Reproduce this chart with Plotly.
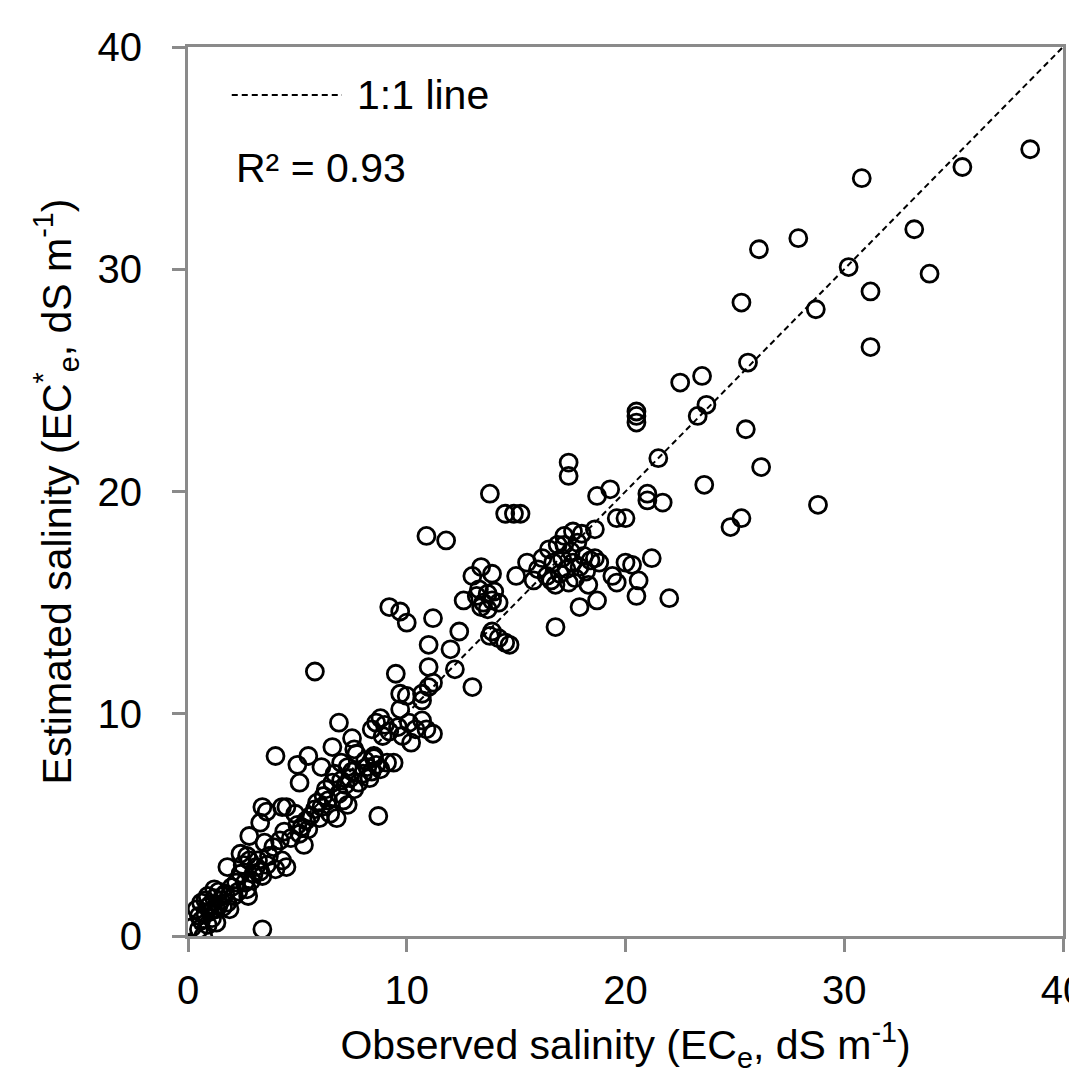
import plotly.graph_objects as go

# Observed (x) and estimated (y) salinity, dS m-1
observed = [
    0.5, 0.7, 0.2, 0.4, 0.6, 0.8, 0.9, 1.0, 1.1, 1.2, 0.5, 0.9, 1.3, 1.4, 1.5, 1.6, 1.7, 1.8, 2.0, 1.9,
    1.2, 0.8, 1.0, 1.4, 1.6, 0.6, 2.1, 2.2, 1.3, 0.9,
    1.8, 2.75, 2.6, 2.4, 2.5, 2.7, 2.8, 3.0, 3.1, 3.3, 3.4, 2.9, 2.4, 2.8, 3.2, 3.6, 4.0, 4.3, 4.5, 3.4,
    2.7, 2.3, 3.5, 3.7, 3.9,
    3.4, 3.6, 3.3, 4.2, 4.4, 4.7, 4.5, 4.3, 5.3, 5.1, 5.0, 5.4, 5.6, 5.2, 5.8, 4.9, 5.5, 6.0, 5.9, 6.2,
    6.1, 6.4, 6.5, 6.8, 6.3, 6.6, 6.9, 7.0, 7.2, 7.4, 6.7, 7.1, 7.3, 7.6, 7.8, 7.5, 8.0, 8.2, 8.4, 8.1,
    8.3, 8.6, 8.8, 8.5,
    4.0, 5.0, 5.5, 6.1, 5.1, 6.6, 6.9, 7.5, 7.6, 8.7, 8.5, 9.1, 9.4, 8.4, 8.6, 8.8, 9.0, 9.2, 8.9, 9.6,
    10.1, 10.4, 10.7, 10.9, 11.2, 10.2, 9.8, 7.7, 7.0, 7.3,
    5.8, 9.5, 9.7, 10.0, 10.7, 10.7, 11.0, 11.2, 11.0, 12.2, 13.0, 9.7, 11.0, 12.0, 11.2, 12.4, 9.2, 9.7, 10.0,
    13.9, 14.2, 14.5, 14.7, 13.8,
    12.6, 13.0, 13.4, 13.9, 13.2, 13.5, 13.7, 13.9, 14.0, 13.4, 13.7, 14.2, 13.3,
    15.0, 15.5, 15.2, 14.5, 14.9, 13.8, 10.9, 11.8,
    15.8, 16.0, 16.2, 16.4, 16.5, 16.7, 16.8, 16.9, 17.0, 17.1, 17.2, 17.3, 17.4, 17.5, 17.6, 17.7, 17.8, 17.9,
    18.0, 18.1, 18.2, 18.3, 18.4, 17.6, 17.2, 16.6, 18.6, 18.6, 18.8,
    16.8, 17.9, 18.7, 20.5, 22.0, 19.6, 20.6, 19.4, 20.0, 20.3, 21.2, 19.6, 20.0, 18.7, 19.3, 21.0, 21.0, 21.7,
    17.4, 17.4, 21.5, 20.5, 20.5, 20.5, 22.5, 23.5, 23.3, 23.7, 25.5, 23.6, 26.2, 24.8, 25.3, 28.8, 25.6, 28.7,
    31.2, 31.2, 33.9, 30.2, 26.1, 27.9, 33.2, 30.8, 35.4, 38.5, 25.3,
]
estimated = [
    0.3, 0.0, 0.4, 1.2, 1.5, 1.0, 1.8, 1.4, 0.8, 1.7, 0.9, 0.5, 1.2, 2.0, 1.6, 1.3, 1.9, 1.5, 2.2, 1.2,
    2.1, 1.6, 1.1, 1.4, 1.8, 0.7, 1.8, 2.4, 0.6, 1.3,
    3.1, 1.8, 2.4, 2.8, 3.2, 3.6, 3.4, 2.8, 3.1, 2.9, 2.7, 2.5, 3.7, 4.5, 3.4, 3.2, 3.0, 3.4, 3.1, 0.3,
    2.1, 2.0, 4.2, 3.6, 4.0,
    5.8, 5.6, 5.1, 4.3, 4.7, 4.4, 5.8, 5.8, 4.1, 4.6, 5.0, 5.2, 5.4, 4.9, 5.7, 5.5, 4.8, 5.3, 6.0, 6.3,
    5.8, 6.1, 5.5, 5.3, 6.6, 6.9, 6.4, 7.0, 6.8, 7.1, 7.3, 6.1, 5.9, 6.6, 6.9, 7.4, 7.3, 7.6, 7.4, 7.9,
    7.1, 7.7, 7.5, 8.0,
    8.1, 7.7, 8.1, 7.6, 6.9, 8.5, 9.6, 8.9, 8.4, 5.4, 8.1, 7.8, 7.8, 9.3, 9.6, 9.8, 9.5, 9.2, 9.0, 9.4,
    9.6, 9.3, 9.7, 9.3, 9.1, 8.7, 9.0, 8.2, 7.8, 7.6,
    11.9, 11.8, 10.9, 10.8, 10.9, 10.6, 12.1, 11.4, 11.2, 12.0, 11.2, 10.2, 13.1, 12.9, 14.3, 13.7, 14.8, 14.6, 14.1,
    13.7, 13.4, 13.2, 13.1, 13.5,
    15.1, 16.2, 16.6, 16.3, 15.3, 15.0, 15.4, 15.1, 15.5, 14.8, 14.7, 15.0, 15.6,
    16.2, 16.8, 19.0, 19.0, 19.0, 19.9, 18.0, 17.8,
    16.0, 16.5, 17.0, 16.2, 17.4, 16.8, 15.8, 17.6, 16.3, 17.0, 18.0, 16.5, 15.9, 17.3, 16.8, 16.1, 17.7, 16.6,
    18.1, 17.1, 16.4, 15.8, 16.9, 18.2, 17.6, 16.0, 18.3, 17.0, 16.8,
    13.9, 14.8, 15.1, 15.3, 15.2, 15.9, 16.0, 16.2, 16.8, 16.7, 17.0, 18.8, 18.8, 19.8, 20.1, 19.9, 19.6, 19.5,
    21.3, 20.7, 21.5, 23.6, 23.4, 23.1, 24.9, 25.2, 23.4, 23.9, 22.8, 20.3, 21.1, 18.4, 18.8, 19.4, 25.8, 28.2,
    26.5, 29.0, 29.8, 30.1, 30.9, 31.4, 31.8, 34.1, 34.6, 35.4, 28.5,
]

line_x = [0, 40]
line_y = [0, 40]
ticks = [0, 10, 20, 30, 40]

FONT = "Liberation Sans, Arial, sans-serif"
AXIS_GRAY = "#8a8a8a"

fig = go.Figure()
fig.add_trace(go.Scatter(
    x=line_x, y=line_y, mode="lines",
    line=dict(color="black", width=2, dash="6px,4px"),
    showlegend=False, hoverinfo="skip",
))
fig.add_trace(go.Scatter(
    x=observed, y=estimated, mode="markers",
    marker=dict(symbol="circle-open", size=17, color="black",
                line=dict(color="black", width=2.8)),
    showlegend=False,
))

axis_common = dict(
    range=[0, 40], tickvals=ticks, ticks="outside", ticklen=13, tickwidth=3,
    tickcolor=AXIS_GRAY, showline=True, linecolor=AXIS_GRAY, linewidth=3,
    mirror=True, showgrid=False, zeroline=False, automargin=False,
    ticklabeloverflow="allow",
    tickfont=dict(family=FONT, size=40, color="black"),
)

fig.update_layout(
    width=1077, height=1072,
    margin=dict(l=180, r=22, t=39, b=144),
    paper_bgcolor="white", plot_bgcolor="white",
    font=dict(family=FONT, color="black"),
    xaxis=dict(**axis_common, ticklabelstandoff=4,
               title=dict(text="Observed salinity (EC<sub>e</sub>, dS m<sup>-1</sup>)",
                          font=dict(family=FONT, size=41, color="black"), standoff=20)),
    yaxis=dict(**axis_common, ticklabelstandoff=22,
               title=dict(text="Estimated salinity (EC<sup>*</sup><sub>e</sub>, dS m<sup>-1</sup>)",
                          font=dict(family=FONT, size=41, color="black"), standoff=14)),
    showlegend=False,
)

# legend sample for the 1:1 line (decoration)
fig.add_shape(type="line", xref="paper", yref="paper",
              x0=0.050, x1=0.176, y0=0.946, y1=0.946,
              line=dict(color="black", width=2, dash="6px,4px"))
fig.add_annotation(xref="paper", yref="paper", x=0.191, y=0.946, xanchor="left", yanchor="middle",
                   text="1:1 line", showarrow=False, font=dict(family=FONT, size=41, color="black"))
fig.add_annotation(xref="paper", yref="paper", x=0.052, y=0.864, xanchor="left", yanchor="middle",
                   text="R² = 0.93", showarrow=False, font=dict(family=FONT, size=41, color="black"))

fig.write_html("out.html")
